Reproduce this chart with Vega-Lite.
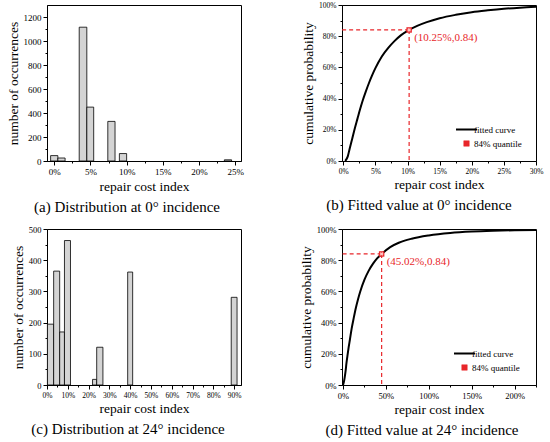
{
  "$schema": "https://vega.github.io/schema/vega-lite/v6.json",
  "background": "white",
  "padding": {"left": 5, "top": 0, "right": 5, "bottom": 5},
  "datasets": {
    "a": [
      {"lo": -0.5, "hi": 0.5, "n": 45},
      {"lo": 0.5, "hi": 1.5, "n": 25},
      {"lo": 3.45, "hi": 4.5, "n": 1115},
      {"lo": 4.5, "hi": 5.45, "n": 449},
      {"lo": 7.4, "hi": 8.4, "n": 330},
      {"lo": 9.0, "hi": 10.0, "n": 62},
      {"lo": 23.5, "hi": 24.5, "n": 10}
    ],
    "c": [
      {"lo": 0.2, "hi": 3.2, "n": 195},
      {"lo": 3.2, "hi": 6.1, "n": 365},
      {"lo": 6.1, "hi": 8.4, "n": 170},
      {"lo": 8.4, "hi": 11.3, "n": 463},
      {"lo": 21.9, "hi": 23.9, "n": 18},
      {"lo": 23.9, "hi": 26.9, "n": 121},
      {"lo": 38.8, "hi": 41.2, "n": 362},
      {"lo": 88.6, "hi": 91.4, "n": 281}
    ],
    "b_curve": [
      {"x": 0.3, "p": 0.0}, {"x": 0.7, "p": 0.03}, {"x": 1.0, "p": 0.08},
      {"x": 1.4, "p": 0.145}, {"x": 1.8, "p": 0.21}, {"x": 2.2, "p": 0.27},
      {"x": 2.6, "p": 0.33}, {"x": 3.0, "p": 0.385}, {"x": 3.5, "p": 0.445},
      {"x": 4.0, "p": 0.5}, {"x": 4.5, "p": 0.55}, {"x": 5.0, "p": 0.595},
      {"x": 6.0, "p": 0.67}, {"x": 7.0, "p": 0.725}, {"x": 8.0, "p": 0.77},
      {"x": 9.0, "p": 0.807}, {"x": 10.25, "p": 0.84}, {"x": 11.5, "p": 0.866},
      {"x": 13.0, "p": 0.89}, {"x": 15.0, "p": 0.915}, {"x": 17.5, "p": 0.937},
      {"x": 20.0, "p": 0.954}, {"x": 22.5, "p": 0.966}, {"x": 25.0, "p": 0.976},
      {"x": 27.5, "p": 0.983}, {"x": 30.0, "p": 0.988}
    ],
    "b_q": [{"x": 10.25, "p": 0.84, "label": "(10.25%,0.84)"}],
    "d_curve": [
      {"x": 0.0, "p": 0.0}, {"x": 1.0, "p": 0.02}, {"x": 2.0, "p": 0.05},
      {"x": 3.0, "p": 0.09}, {"x": 4.0, "p": 0.14}, {"x": 5.0, "p": 0.18},
      {"x": 6.5, "p": 0.24}, {"x": 8.0, "p": 0.29}, {"x": 10.0, "p": 0.36},
      {"x": 12.5, "p": 0.43}, {"x": 15.0, "p": 0.495}, {"x": 17.5, "p": 0.55},
      {"x": 20.0, "p": 0.598}, {"x": 25.0, "p": 0.675}, {"x": 30.0, "p": 0.733},
      {"x": 35.0, "p": 0.778}, {"x": 40.0, "p": 0.813}, {"x": 45.02, "p": 0.84},
      {"x": 55.0, "p": 0.884}, {"x": 65.0, "p": 0.912}, {"x": 80.0, "p": 0.938},
      {"x": 100.0, "p": 0.959}, {"x": 125.0, "p": 0.975}, {"x": 150.0, "p": 0.984},
      {"x": 175.0, "p": 0.989}, {"x": 200.0, "p": 0.992}, {"x": 225.0, "p": 0.994}
    ],
    "d_q": [{"x": 45.02, "p": 0.84, "label": "(45.02%,0.84)"}]
  },
  "columns": 2,
  "bounds": "flush",
  "spacing": {"row": 68, "column": 101},
  "resolve": {"scale": {"color": "independent"}, "legend": {"color": "independent"}},
  "concat": [
    {
      "width": 194,
      "height": 156,
      "title": {"text": "(a) Distribution at 0° incidence", "dx": -17},
      "data": {"name": "a"},
      "mark": {"type": "bar", "fill": "#d4d4d4", "stroke": "black", "strokeWidth": 0.8},
      "encoding": {
        "x": {
          "field": "lo", "type": "quantitative",
          "scale": {"domain": [-1, 25.8], "nice": false, "zero": false},
          "axis": {
            "title": "repair cost index", "labelFontSize": 9, "labelOverlap": false,
            "values": [0, 2.5, 5, 7.5, 10, 12.5, 15, 17.5, 20, 22.5, 25],
            "labelExpr": "datum.value % 5 === 0 ? datum.value + '%' : ''",
            "tickSize": {"condition": {"test": "datum.value % 5 === 0", "value": 4}, "value": 2}
          }
        },
        "x2": {"field": "hi"},
        "y": {
          "field": "n", "type": "quantitative",
          "scale": {"domain": [0, 1300], "nice": false},
          "axis": {
            "title": "number of occurrences", "labelFontSize": 9, "labelOverlap": false,
            "values": [0, 100, 200, 300, 400, 500, 600, 700, 800, 900, 1000, 1100, 1200],
            "labelExpr": "datum.value % 200 === 0 ? datum.value : ''",
            "tickSize": {"condition": {"test": "datum.value % 200 === 0", "value": 4}, "value": 2}
          }
        },
        "y2": {"datum": 0}
      }
    },
    {
      "width": 194,
      "height": 156,
      "title": {"text": "(b) Fitted value at 0° incidence", "dx": -20},
      "layer": [
        {
          "data": {"name": "b_curve"},
          "mark": {"type": "line", "strokeWidth": 2, "interpolate": "monotone"},
          "encoding": {
            "x": {
              "field": "x", "type": "quantitative",
              "scale": {"domain": [-0.2, 30], "nice": false, "zero": false},
              "axis": {
                "title": "repair cost index", "labelFontSize": 7.5, "labelOverlap": false,
                "values": [0, 2.5, 5, 7.5, 10, 12.5, 15, 17.5, 20, 22.5, 25, 27.5, 30],
                "labelExpr": "datum.value % 5 === 0 ? datum.value + '%' : ''",
                "tickSize": {"condition": {"test": "datum.value % 5 === 0", "value": 4}, "value": 2}
              }
            },
            "y": {
              "field": "p", "type": "quantitative",
              "scale": {"domain": [0, 1], "nice": false},
              "axis": {
                "title": "cumulative probability", "labelFontSize": 7.5, "labelOverlap": false,
                "values": [0, 0.1, 0.2, 0.3, 0.4, 0.5, 0.6, 0.7, 0.8, 0.9, 1],
                "labelExpr": "round(datum.value * 10) % 2 === 0 ? format(datum.value, '.0%') : ''",
                "tickSize": {"condition": {"test": "round(datum.value * 10) % 2 === 0", "value": 4}, "value": 2}
              }
            },
            "color": {
              "datum": "fitted curve",
              "scale": {"domain": ["fitted curve", "84% quantile"], "range": ["black", "#e8262a"]},
              "legend": {
                "orient": "none", "legendX": 120, "legendY": 120, "title": null, "padding": 0,
                "symbolType": "stroke", "symbolSize": 440, "symbolStrokeWidth": 2, "rowPadding": 4,
                "labelFont": "Liberation Serif", "labelFontSize": 9, "labelColor": "black", "labelOffset": 3,
                "encode": {"symbols": {"update": {
                  "shape": {"signal": "datum.value === '84% quantile' ? 'square' : 'stroke'"},
                  "size": {"signal": "datum.value === '84% quantile' ? 30 : 440"},
                  "fill": {"signal": "datum.value === '84% quantile' ? '#e8262a' : 'transparent'"},
                  "stroke": {"signal": "datum.value === '84% quantile' ? '#e8262a' : 'black'"},
                  "strokeWidth": {"signal": "datum.value === '84% quantile' ? 0.5 : 2"}
                }}}
              }
            }
          }
        },
        {
          "data": {"name": "b_q"},
          "mark": {"type": "rule", "color": "#e8262a", "strokeDash": [4, 3], "strokeWidth": 1.2},
          "encoding": {
            "x": {"field": "x", "type": "quantitative", "axis": null},
            "x2": {"value": 0},
            "y": {"field": "p", "type": "quantitative", "axis": null}
          }
        },
        {
          "data": {"name": "b_q"},
          "mark": {"type": "rule", "color": "#e8262a", "strokeDash": [4, 3], "strokeWidth": 1.2},
          "encoding": {
            "x": {"field": "x", "type": "quantitative", "axis": null},
            "y": {"field": "p", "type": "quantitative", "axis": null},
            "y2": {"datum": 0}
          }
        },
        {
          "data": {"name": "b_q"},
          "mark": {"type": "point", "shape": "square", "filled": true, "size": 30, "opacity": 1},
          "encoding": {
            "x": {"field": "x", "type": "quantitative", "axis": null},
            "y": {"field": "p", "type": "quantitative", "axis": null},
            "color": {"datum": "84% quantile"}
          }
        },
        {
          "data": {"name": "b_q"},
          "mark": {"type": "point", "shape": "cross", "angle": 45, "filled": true, "size": 14, "opacity": 1, "color": "#ffc4c4"},
          "encoding": {
            "x": {"field": "x", "type": "quantitative", "axis": null},
            "y": {"field": "p", "type": "quantitative", "axis": null}
          }
        },
        {
          "data": {"name": "b_q"},
          "mark": {"type": "text", "align": "left", "baseline": "middle", "dx": 5, "dy": 8, "color": "#e8262a", "fontSize": 11, "font": "Liberation Serif"},
          "encoding": {
            "x": {"field": "x", "type": "quantitative", "axis": null},
            "y": {"field": "p", "type": "quantitative", "axis": null},
            "text": {"field": "label"}
          }
        }
      ],
      "resolve": {"axis": {"x": "independent", "y": "independent"}}
    },
    {
      "width": 194,
      "height": 156,
      "title": {"text": "(c) Distribution at 24° incidence", "dx": -16},
      "data": {"name": "c"},
      "mark": {"type": "bar", "fill": "#d4d4d4", "stroke": "black", "strokeWidth": 0.8},
      "encoding": {
        "x": {
          "field": "lo", "type": "quantitative",
          "scale": {"domain": [0, 93.3], "nice": false, "zero": false},
          "axis": {
            "title": "repair cost index", "labelFontSize": 7.5, "labelOverlap": false,
            "values": [0, 5, 10, 15, 20, 25, 30, 35, 40, 45, 50, 55, 60, 65, 70, 75, 80, 85, 90],
            "labelExpr": "datum.value % 10 === 0 ? datum.value + '%' : ''",
            "tickSize": {"condition": {"test": "datum.value % 10 === 0", "value": 4}, "value": 2}
          }
        },
        "x2": {"field": "hi"},
        "y": {
          "field": "n", "type": "quantitative",
          "scale": {"domain": [0, 500], "nice": false},
          "axis": {
            "title": "number of occurrences", "labelFontSize": 8.5, "labelOverlap": false,
            "values": [0, 50, 100, 150, 200, 250, 300, 350, 400, 450, 500],
            "labelExpr": "datum.value % 100 === 0 ? datum.value : ''",
            "tickSize": {"condition": {"test": "datum.value % 100 === 0", "value": 4}, "value": 2}
          }
        },
        "y2": {"datum": 0}
      }
    },
    {
      "width": 194,
      "height": 156,
      "title": {"text": "(d) Fitted value at 24° incidence", "dx": -17},
      "layer": [
        {
          "data": {"name": "d_curve"},
          "mark": {"type": "line", "strokeWidth": 2, "interpolate": "monotone"},
          "encoding": {
            "x": {
              "field": "x", "type": "quantitative",
              "scale": {"domain": [-1.2, 225], "nice": false, "zero": false},
              "axis": {
                "title": "repair cost index", "labelFontSize": 8.5, "labelOverlap": false,
                "values": [0, 25, 50, 75, 100, 125, 150, 175, 200, 225],
                "labelExpr": "datum.value % 50 === 0 ? datum.value + '%' : ''",
                "tickSize": {"condition": {"test": "datum.value % 50 === 0", "value": 4}, "value": 2}
              }
            },
            "y": {
              "field": "p", "type": "quantitative",
              "scale": {"domain": [0, 1], "nice": false},
              "axis": {
                "title": "cumulative probability", "labelFontSize": 8.5, "labelOverlap": false,
                "values": [0, 0.1, 0.2, 0.3, 0.4, 0.5, 0.6, 0.7, 0.8, 0.9, 1],
                "labelExpr": "round(datum.value * 10) % 2 === 0 ? format(datum.value, '.0%') : ''",
                "tickSize": {"condition": {"test": "round(datum.value * 10) % 2 === 0", "value": 4}, "value": 2}
              }
            },
            "color": {
              "datum": "fitted curve",
              "scale": {"domain": ["fitted curve", "84% quantile"], "range": ["black", "#e8262a"]},
              "legend": {
                "orient": "none", "legendX": 118, "legendY": 120, "title": null, "padding": 0,
                "symbolType": "stroke", "symbolSize": 440, "symbolStrokeWidth": 2, "rowPadding": 4,
                "labelFont": "Liberation Serif", "labelFontSize": 9, "labelColor": "black", "labelOffset": 3,
                "encode": {"symbols": {"update": {
                  "shape": {"signal": "datum.value === '84% quantile' ? 'square' : 'stroke'"},
                  "size": {"signal": "datum.value === '84% quantile' ? 30 : 440"},
                  "fill": {"signal": "datum.value === '84% quantile' ? '#e8262a' : 'transparent'"},
                  "stroke": {"signal": "datum.value === '84% quantile' ? '#e8262a' : 'black'"},
                  "strokeWidth": {"signal": "datum.value === '84% quantile' ? 0.5 : 2"}
                }}}
              }
            }
          }
        },
        {
          "data": {"name": "d_q"},
          "mark": {"type": "rule", "color": "#e8262a", "strokeDash": [4, 3], "strokeWidth": 1.2},
          "encoding": {
            "x": {"field": "x", "type": "quantitative", "axis": null},
            "x2": {"value": 0},
            "y": {"field": "p", "type": "quantitative", "axis": null}
          }
        },
        {
          "data": {"name": "d_q"},
          "mark": {"type": "rule", "color": "#e8262a", "strokeDash": [4, 3], "strokeWidth": 1.2},
          "encoding": {
            "x": {"field": "x", "type": "quantitative", "axis": null},
            "y": {"field": "p", "type": "quantitative", "axis": null},
            "y2": {"datum": 0}
          }
        },
        {
          "data": {"name": "d_q"},
          "mark": {"type": "point", "shape": "square", "filled": true, "size": 30, "opacity": 1},
          "encoding": {
            "x": {"field": "x", "type": "quantitative", "axis": null},
            "y": {"field": "p", "type": "quantitative", "axis": null},
            "color": {"datum": "84% quantile"}
          }
        },
        {
          "data": {"name": "d_q"},
          "mark": {"type": "point", "shape": "cross", "angle": 45, "filled": true, "size": 14, "opacity": 1, "color": "#ffc4c4"},
          "encoding": {
            "x": {"field": "x", "type": "quantitative", "axis": null},
            "y": {"field": "p", "type": "quantitative", "axis": null}
          }
        },
        {
          "data": {"name": "d_q"},
          "mark": {"type": "text", "align": "left", "baseline": "middle", "dx": 5, "dy": 8.5, "color": "#e8262a", "fontSize": 11, "font": "Liberation Serif"},
          "encoding": {
            "x": {"field": "x", "type": "quantitative", "axis": null},
            "y": {"field": "p", "type": "quantitative", "axis": null},
            "text": {"field": "label"}
          }
        }
      ],
      "resolve": {"axis": {"x": "independent", "y": "independent"}}
    }
  ],
  "config": {
    "font": "Liberation Serif",
    "view": {"stroke": "black", "strokeWidth": 1},
    "axis": {
      "grid": false, "domainColor": "black", "tickColor": "black", "labelColor": "black",
      "titleColor": "black", "labelFont": "Liberation Serif", "titleFont": "Liberation Serif",
      "titleFontWeight": "normal", "titleFontSize": 13.5, "labelOverlap": false, "labelFlush": false,
      "labelPadding": 2, "titlePadding": 3
    },
    "axisX": {"labelAngle": 0},
    "title": {"font": "Liberation Serif", "fontWeight": "normal", "fontSize": 15, "orient": "bottom", "color": "black", "offset": 7}
  }
}
